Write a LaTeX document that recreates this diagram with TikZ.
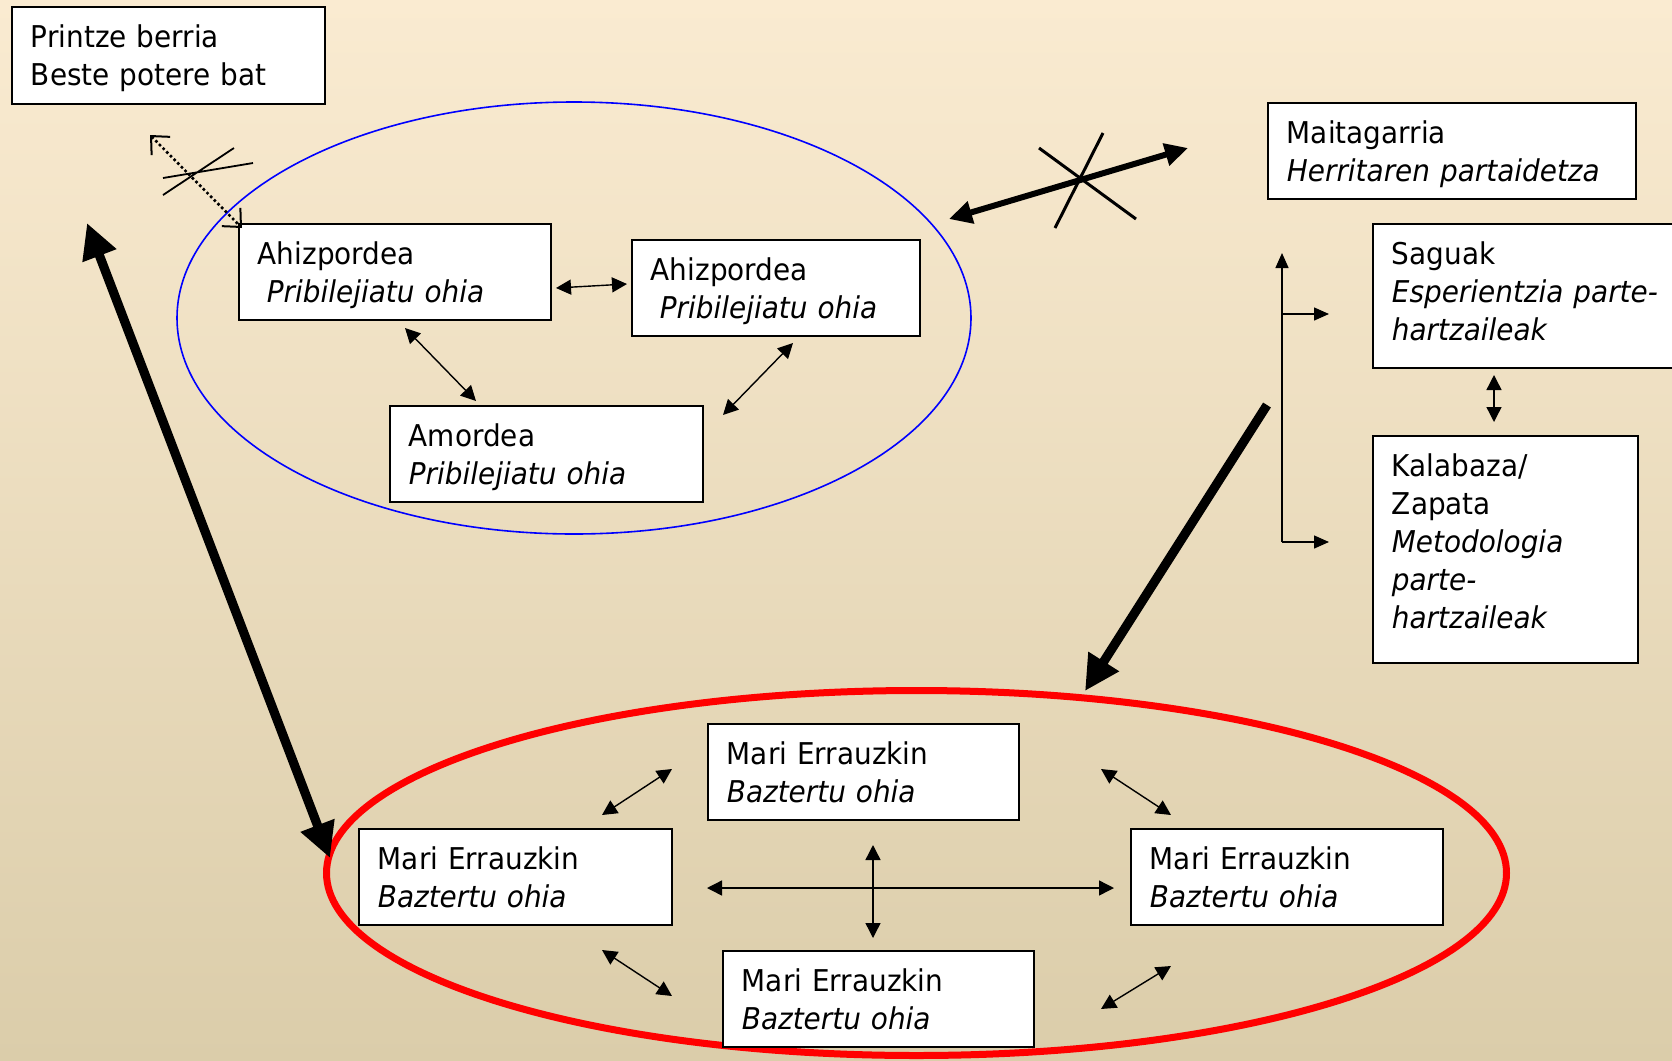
\documentclass[tikz,border=0pt]{standalone}
\usepackage{fontspec}
\setmainfont{DejaVu Sans}[FakeStretch=0.93]
\usepackage{tikz}
\usetikzlibrary{arrows.meta,calc}
\definecolor{bgtop}{RGB}{250,235,209}
\definecolor{bgbot}{RGB}{219,205,170}
\tikzset{
  kutxa/.style={draw,line width=0.9pt,fill=white,anchor=north west,align=left,
    inner xsep=9.5pt,inner ysep=0pt,text height=20.3pt,text depth=#1,font=\fontsize{15}{19}\selectfont},
  kutxa/.default=27.7pt,
  gezi/.style={line width=0.7pt,{Triangle[length=7.5pt,width=7.5pt]}-{Triangle[length=7.5pt,width=7.5pt]}},
  gezibat/.style={line width=0.7pt,-{Triangle[length=7.5pt,width=6.5pt]}},
  lodia/.style={line width=4.6pt,{Triangle[length=17.5pt,width=17pt]}-{Triangle[length=17.5pt,width=17pt]}},
}

\begin{document}
\begin{tikzpicture}[x=0.5pt,y=-0.5pt]
            %背景
            \fill[top color=bgtop,bottom color=bgbot] (0,0) rectangle (1672,1061);
            \useasboundingbox (0,0) rectangle (1672,1061);
            %两个椭圆
            \draw[blue,line width=0.8pt] (574,318) ellipse [x radius=397,y radius=216];
            \draw[red,line width=3.5pt] (916.5,873) ellipse [x radius=590,y radius=182.5];
            %方框
            \node[kutxa=28.2pt,text width=137.5pt] (printze) at (11,6) {Printze berria\\Beste potere bat};
            \node[kutxa,text width=137pt] (ahiz1) at (238,223) {Ahizpordea\\\hspace*{0.3em}\textit{Pribilejiatu ohia}};
            \node[kutxa,text width=125pt] (ahiz2) at (631,239) {Ahizpordea\\\hspace*{0.3em}\textit{Pribilejiatu ohia}};
            \node[kutxa,text width=137.5pt] (amordea) at (389,405) {Amordea\\\textit{Pribilejiatu ohia}};
            \node[kutxa,text width=165pt] (maita) at (1267,102) {Maitagarria\\\textit{Herritaren partaidetza}};
            \node[kutxa=51.7pt,text width=146pt] (saguak) at (1372,223) {Saguak\\\textit{Esperientzia parte-}\\\textit{hartzaileak}};
            \node[kutxa=93.2pt,text width=113.5pt] (kalabaza) at (1372,435) {Kalabaza/\\Zapata\\\textit{Metodologia}\\\textit{parte-}\\\textit{hartzaileak}};
            \node[kutxa,text width=136.5pt] (marigoi) at (707,723) {Mari Errauzkin\\\textit{Baztertu ohia}};
            \node[kutxa,text width=137.5pt] (mariezk) at (358,828) {Mari Errauzkin\\\textit{Baztertu ohia}};
            \node[kutxa,text width=137pt] (mariesk) at (1130,828) {Mari Errauzkin\\\textit{Baztertu ohia}};
            \node[kutxa,text width=136.5pt] (maribehe) at (722,950) {Mari Errauzkin\\\textit{Baztertu ohia}};
            %粗箭头
            \coordinate (ezk1) at (87,223);  \coordinate (ezk2) at (330,858);
            \coordinate (esk1) at (1267,405); \coordinate (esk2) at (1085,691);
            \coordinate (goi1) at (949,219); \coordinate (goi2) at (1188,148);
            \draw[lodia] (ezk1) -- (ezk2);
            \draw[line width=4.6pt,-{Triangle[length=17.5pt,width=17pt]}] (esk1) -- (esk2);
            \draw[line width=3pt,{Triangle[length=11.5pt,width=11pt]}-{Triangle[length=11.5pt,width=11pt]}] (goi1) -- (goi2);
            \draw[line width=1.5pt] (1039,148) -- (1136,219) (1103,133) -- (1055,228);
            %虚线箭头和叉
            \coordinate (pr1) at (150,135); \coordinate (pr2) at (242,228);
            \draw[line width=1.3pt,dash pattern=on 1.3pt off 1.3pt,{Straight Barb[length=7pt,width=13pt,line width=1pt]}-{Straight Barb[length=7pt,width=13pt,line width=1pt]}] (pr1) -- (pr2);
            \draw[line width=0.9pt] (163,195) -- (234,148) (163,178) -- (253,163);
            %蓝色椭圆里的箭头
            \coordinate (a1) at (556,288); \coordinate (a2) at (627,284);
            \coordinate (b1) at (405,328); \coordinate (b2) at (476,401);
            \coordinate (c1) at (793,343); \coordinate (c2) at (723,415);
            \foreach \p/\q in {a1/a2,b1/b2,c1/c2}
                \draw[gezi] (\p) -- (\q);
            %右边的箭头
            \coordinate (s1) at (1494,375); \coordinate (s2) at (1494,422);
            \draw[gezi] (s1) -- (s2);
            \coordinate (k0) at (1282,253); \coordinate (k1) at (1282,314);
            \coordinate (k2) at (1282,542); \coordinate (k3) at (1329,314);
            \coordinate (k4) at (1329,542);
            \draw[gezibat] (k2) -- (k0);
            \draw[gezibat] (k1) -- (k3);
            \draw[gezibat] (k2) -- (k4);
            %红色椭圆里的箭头
            \coordinate (m1) at (602,815); \coordinate (m2) at (672,769);
            \coordinate (m3) at (1101,769); \coordinate (m4) at (1171,815);
            \coordinate (m5) at (602,950); \coordinate (m6) at (672,996);
            \coordinate (m7) at (1101,1009); \coordinate (m8) at (1171,966);
            \coordinate (h1) at (707,888); \coordinate (h2) at (1114,888);
            \coordinate (v1) at (873,845); \coordinate (v2) at (873,938);
            \foreach \p/\q in {m1/m2,m3/m4,m5/m6,m7/m8,h1/h2,v1/v2}
                \draw[gezi] (\p) -- (\q);
          \end{tikzpicture}
\end{document}
